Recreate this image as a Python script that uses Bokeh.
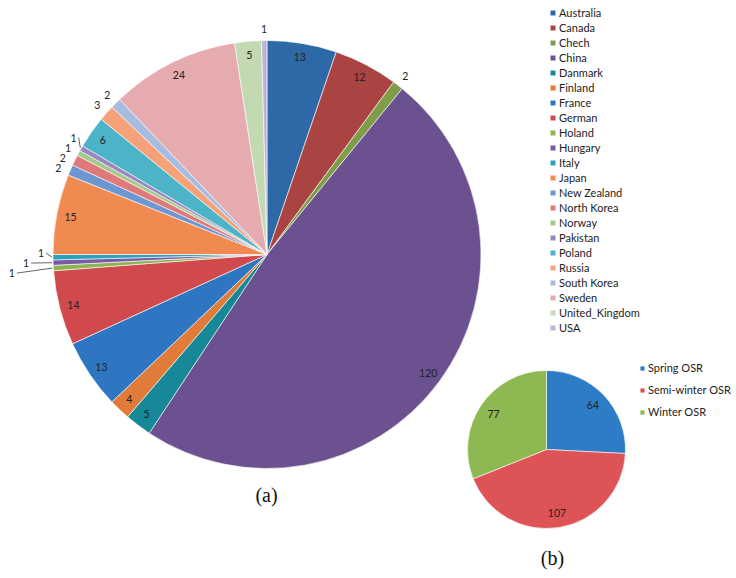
import numpy as np
from bokeh.plotting import figure
from bokeh.models import ColumnDataSource, Range1d, Legend, LegendItem, Label
from bokeh.embed import file_html
from bokeh.resources import INLINE
from bokeh.core.properties import value

# ---------------- data ----------------
countries = ["Australia", "Canada", "Chech", "China", "Danmark", "Finland", "France",
             "German", "Holand", "Hungary", "Italy", "Japan", "New Zealand", "North Korea",
             "Norway", "Pakistan", "Poland", "Russia", "South Korea", "Sweden",
             "United_Kingdom", "USA"]
counts = [13, 12, 2, 120, 5, 4, 13, 14, 1, 1, 1, 15, 2, 2, 1, 1, 6, 3, 2, 24, 5, 1]
colors_a = ["#2D69A7", "#A94442", "#7F9C48", "#6B5190", "#168897", "#E07B3A", "#2E76C1",
            "#D04A4D", "#8CB450", "#7A5AA6", "#2AA3BE", "#F08A50", "#6C97D2", "#E07A7A",
            "#A5C98A", "#9A87C0", "#4DB3C7", "#F5A27B", "#A7BDE0", "#E6ABAE", "#C3D9B2",
            "#BDB3D5"]

osr_types = ["Spring OSR", "Semi-winter OSR", "Winter OSR"]
osr_counts = [64, 107, 77]
colors_b = ["#2E7BC6", "#DE5456", "#8DB852"]

FONT = "Lato"
W, H = 736, 578

p = figure(width=W, height=H, x_range=Range1d(0, W), y_range=Range1d(0, H),
           output_backend="svg", toolbar_location=None, min_border=0,
           x_axis_type=None, y_axis_type=None)
p.grid.visible = False
p.outline_line_color = None
p.background_fill_color = "white"
p.border_fill_color = "white"


def sx(px):  # screen px -> data x
    return px


def sy(py):  # screen px -> data y
    return H - py


def pie(values, cx, cy, r, colors, names):
    v = np.array(values, dtype=float)
    frac = v / v.sum()
    ends = np.cumsum(frac)
    starts = ends - frac
    src = ColumnDataSource(dict(
        name=names, value=list(values), color=colors,
        start=list(np.pi / 2 - 2 * np.pi * starts),
        end=list(np.pi / 2 - 2 * np.pi * ends),
    ))
    rend = p.wedge(x=cx, y=cy, radius=r, start_angle="start", end_angle="end",
                   direction="clock", fill_color="color", line_color="white",
                   line_width=0.6, source=src)
    mids = 2 * np.pi * (starts + ends) / 2  # clockwise from 12 o'clock
    return rend, mids


# ---------------- pie (a) ----------------
CXA, CYA, RA = sx(266.5), sy(254), 214
rend_a, mids_a = pie(counts, CXA, CYA, RA, colors_a, countries)

in_x, in_y, in_t = [], [], []
out_items = []
for i, (c, th) in enumerate(zip(counts, mids_a)):
    if c >= 4:
        d = RA - 14
        in_x.append(CXA + d * np.sin(th))
        in_y.append(CYA + d * np.cos(th))
        in_t.append(str(c))
    else:
        out_items.append(dict(t=str(c), th=th))

RL = RA + 12
for it in out_items:
    it["bx"] = CXA + RL * np.sin(it["th"])
    it["by"] = CYA + RL * np.cos(it["th"])
    it["y"] = it["by"]
    it["side"] = 1 if np.sin(it["th"]) >= 0 else -1

GAP = 10
for side in (1, -1):
    grp = sorted([it for it in out_items if it["side"] == side], key=lambda d: d["y"])
    for _ in range(200):
        for a, b in zip(grp[:-1], grp[1:]):
            diff = b["y"] - a["y"]
            if diff < GAP:
                push = (GAP - diff) / 2
                a["y"] -= push
                b["y"] += push
    clusters, cur = [], []
    for it in grp:
        if cur and it["y"] - cur[-1]["y"] > GAP + 0.5:
            clusters.append(cur)
            cur = []
        cur.append(it)
    if cur:
        clusters.append(cur)
    for cl in clusters:
        horiz = len(cl) > 1 and all(abs(np.cos(it["th"])) < 0.3 for it in cl)
        cl_top = sorted(cl, key=lambda d: -d["y"])
        for k, it in enumerate(cl_top):
            dy = it["y"] - CYA
            it["x"] = CXA + side * np.sqrt(max(RL ** 2 - dy ** 2, 0))
            if horiz:
                it["x"] += side * 15 * k

lead_x, lead_y = [], []
for it in out_items:
    disp = np.hypot(it["x"] - it["bx"], it["y"] - it["by"])
    if disp > 3:
        ex = CXA + (RA + 1) * np.sin(it["th"])
        ey = CYA + (RA + 1) * np.cos(it["th"])
        lead_x.append([it["x"] - it["side"] * 5, ex])
        lead_y.append([it["y"], ey])

p.multi_line(xs=lead_x, ys=lead_y, line_color="#404040", line_width=0.8)

p.text(x=in_x, y=in_y, text=in_t, text_font=value(FONT), text_font_size="10.5px",
       text_color="#222222", text_align="center", text_baseline="middle")
p.text(x=[it["x"] for it in out_items], y=[it["y"] for it in out_items],
       text=[it["t"] for it in out_items], text_font=value(FONT), text_font_size="10.5px",
       text_color="#222222", text_align="center", text_baseline="middle")

# ---------------- pie (b) ----------------
CXB, CYB, RB = sx(546), sy(449), 79
rend_b, mids_b = pie(osr_counts, CXB, CYB, RB, colors_b, osr_types)
db = RB * 0.81
p.text(x=[CXB + db * np.sin(t) for t in mids_b], y=[CYB + db * np.cos(t) for t in mids_b],
       text=[str(c) for c in osr_counts], text_font=value(FONT), text_font_size="10.5px",
       text_color="#222222", text_align="center", text_baseline="middle")

# ---------------- legends ----------------
leg_a = Legend(items=[LegendItem(label=n, renderers=[rend_a], index=i) for i, n in enumerate(countries)],
               location=(549, 244), glyph_width=7, glyph_height=7, label_height=12, spacing=2,
               padding=0, margin=0, label_standoff=3, label_text_font=FONT,
               label_text_font_size="11px", label_text_color="#222222",
               border_line_alpha=0, background_fill_alpha=0)
p.add_layout(leg_a)

leg_b = Legend(items=[LegendItem(label=n, renderers=[rend_b], index=i) for i, n in enumerate(osr_types)],
               location=(639, 160), glyph_width=6, glyph_height=6, label_height=12, spacing=9,
               padding=0, margin=0, label_standoff=3, label_text_font=FONT,
               label_text_font_size="11px", label_text_color="#222222",
               border_line_alpha=0, background_fill_alpha=0)
p.add_layout(leg_b)

# ---------------- captions ----------------
for txt, px, py in (("(a)", 266, 494), ("(b)", 552, 557)):
    p.add_layout(Label(x=sx(px), y=sy(py), text=txt, text_font="Liberation Serif",
                       text_font_size="20px", text_color="#111111",
                       text_align="center", text_baseline="middle"))

open("out.html", "w").write(file_html(p, INLINE))
